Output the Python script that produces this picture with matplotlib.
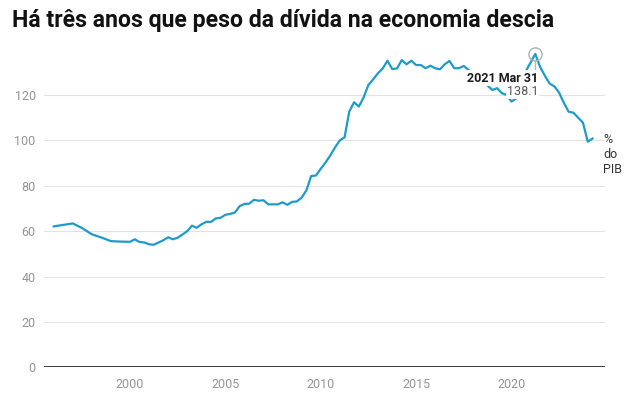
import matplotlib
matplotlib.use("Agg")
import matplotlib.pyplot as plt
import pandas as pd

plt.rcParams['font.family'] = ['Roboto', 'DejaVu Sans']

title = "Há três anos que peso da dívida na economia descia"

early_dates = ["1995-12-31", "1996-12-31", "1997-06-30", "1997-12-31",
               "1998-06-30", "1998-12-31", "1999-06-30", "1999-12-31"]
early_values = [62.1, 63.4, 61.3, 58.6, 57.2, 55.6, 55.4, 55.3]

quarter_start = "2000-03-31"
quarter_end = "2024-03-31"
quarter_values = [
    56.4, 55.2, 55.0, 54.2, 54.0, 55.0, 56.0, 57.3, 56.4, 57.1, 58.5, 60.0,
    62.4, 61.5, 63.0, 64.1, 64.1, 65.6, 65.9, 67.2, 67.6, 68.2, 71.0, 72.0,
    72.1, 73.8, 73.4, 73.6, 71.8, 71.8, 71.8, 72.7, 71.6, 72.9, 73.1, 74.8,
    78.0, 84.3, 84.5, 87.5, 90.2, 93.3, 96.9, 100.0, 101.3, 112.7, 116.8, 114.9,
    119.0, 124.4, 126.9, 129.6, 131.7, 135.1, 131.4, 131.7, 135.4, 133.5, 135.1, 133.2,
    133.2, 131.8, 132.9, 131.8, 131.3, 133.5, 135.0, 131.8, 131.8, 132.8, 131.0, 129.5,
    128.0, 126.3, 124.1, 122.2, 123.0, 120.8, 120.0, 117.1, 118.5, 124.5, 130.5, 134.3,
    138.1, 132.4, 128.5, 125.0, 123.8, 121.0, 116.5, 112.6, 112.2, 110.0, 107.8, 99.4,
    100.8,
]

peak_date = "2021-03-31"
peak_label = "2021 Mar 31"
peak_value = 138.1

y_ticks = [0, 20, 40, 60, 80, 100, 120]
x_tick_years = [2000, 2005, 2010, 2015, 2020]
unit_label = "%\ndo\nPIB"

q_dates = pd.date_range(quarter_start, quarter_end, freq="QE")
dates = pd.to_datetime(early_dates).append(q_dates)
values = early_values + quarter_values

W, H = 631, 393
fig = plt.figure(figsize=(W / 100, H / 100), dpi=100)
ax = fig.add_axes([44 / W, (H - 367.3) / H, 561 / W, 317.7 / H])

line_color = "#1f9bc8"
ax.plot(dates, values, color=line_color, lw=1.6, solid_joinstyle="round", zorder=3)

ax.set_ylim(0, 140)
ax.set_xlim(pd.Timestamp("1995-06-28"), pd.Timestamp("2024-11-25"))

ax.set_yticks(y_ticks)
ax.set_yticklabels([str(v) for v in y_ticks])
ax.set_xticks([pd.Timestamp(f"{y}-01-01") for y in x_tick_years])
ax.set_xticklabels([str(y) for y in x_tick_years])
ax.tick_params(axis="both", length=0, labelsize=9, labelcolor="#959595")
ax.tick_params(axis="y", pad=6)
ax.tick_params(axis="x", pad=8)
for v in y_ticks[1:]:
    ax.axhline(v, color="#e2e2e2", lw=0.8, zorder=1)
ax.axhline(0, color="#1a1a1a", lw=1.2, zorder=2)
for s in ax.spines.values():
    s.set_visible(False)

pk = pd.Timestamp(peak_date)
ax.plot([pk], [peak_value], marker="o", ms=9.5, mfc="none", mec="#b0b0b0", mew=1.0,
        zorder=4, clip_on=False)
ax.plot([pk, pk], [peak_value - 2.6, peak_value - 8.2], color="#b8b8b8", lw=1.0, zorder=4)
ax.annotate(peak_label, xy=(pk, peak_value), xytext=(2, -17.5), textcoords="offset points",
            ha="right", va="center", fontsize=9, fontweight="bold", color="#1a1a1a",
            bbox=dict(boxstyle="square,pad=0.1", fc="white", ec="none"), zorder=5)
ax.annotate(f"{peak_value}", xy=(pk, peak_value), xytext=(2, -27.3), textcoords="offset points",
            ha="right", va="center", fontsize=9, color="#555555",
            bbox=dict(boxstyle="square,pad=0.05", fc="white", ec="none"), zorder=5)

fig.text(603 / W, 1 - 133 / H, unit_label, ha="left", va="top", fontsize=9,
         color="#333333", linespacing=1.2)

fig.text(12 / W, 1 - 20 / H, title, ha="left", va="center", fontsize=16.6,
         fontweight="bold", color="#111111")

fig.savefig("out.png", dpi=100)
